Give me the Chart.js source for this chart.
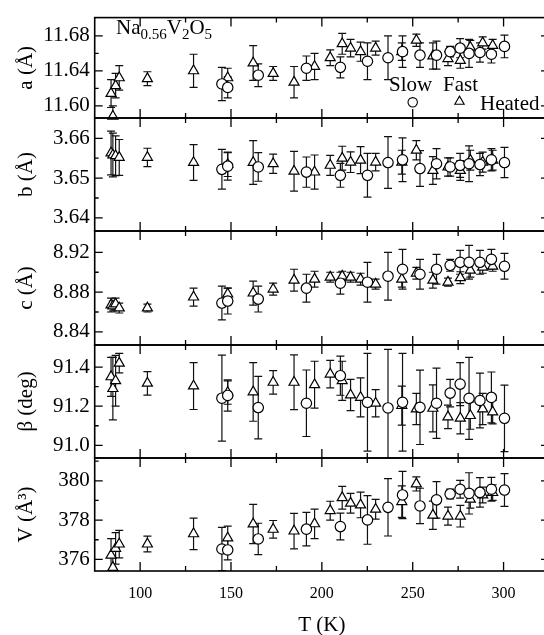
<!DOCTYPE html>
<html><head><meta charset="utf-8">
<script src="https://cdn.jsdelivr.net/npm/chart.js@4.4.1/dist/chart.umd.min.js"></script>
<style>
html,body{margin:0;padding:0;background:#fff;overflow:hidden;width:544px;height:635px}
#wrap{position:relative;width:544px;height:635px;overflow:hidden;background:#fff}
canvas{position:absolute;left:0;top:0}
</style></head><body><div id="wrap"></div>
<script>
// ---- data ----
const slowT = [145.0, 148.2, 165.0, 191.5, 210.2, 225.1, 236.4, 244.4, 254.0, 263.1, 270.6, 276.1, 281.0, 287.0, 293.3, 300.5];
const fastT = [84.0, 85.0, 86.5, 88.5, 104.0, 129.4, 148.2, 162.2, 173.2, 184.7, 196.0, 204.6, 211.2, 215.8, 221.3, 229.6, 244.0, 252.0, 261.1, 269.4, 276.2, 281.7, 288.5, 294.0];

const slowA    = [11.625, 11.621, 11.635, 11.643, 11.644, 11.651, 11.655, 11.662, 11.658, 11.658, 11.662, 11.666, 11.660, 11.661, 11.659, 11.668];
const slowAErr = [0.019, 0.012, 0.013, 0.014, 0.012, 0.021, 0.025, 0.018, 0.014, 0.016, 0.006, 0.011, 0.016, 0.011, 0.010, 0.013];
const fastA    = [11.614, 11.588, 11.623, 11.632, 11.631, 11.640, 11.632, 11.649, 11.637, 11.627, 11.645, 11.655, 11.671, 11.666, 11.662, 11.666, 11.662, 11.675, 11.657, 11.654, 11.652, 11.667, 11.672, 11.669];
const fastAErr = [0.016, 0.012, 0.014, 0.014, 0.008, 0.019, 0.011, 0.020, 0.008, 0.018, 0.015, 0.009, 0.012, 0.010, 0.011, 0.008, 0.010, 0.007, 0.015, 0.008, 0.009, 0.008, 0.007, 0.007];

const slowB    = [3.6522, 3.6530, 3.6528, 3.6515, 3.6507, 3.6507, 3.6539, 3.6546, 3.6524, 3.6536, 3.6528, 3.6532, 3.6536, 3.6534, 3.6546, 3.6539];
const slowBErr = [0.005, 0.0035, 0.0036, 0.0038, 0.003, 0.0055, 0.0065, 0.0055, 0.0045, 0.0038, 0.0023, 0.003, 0.0045, 0.0028, 0.0028, 0.0038];
const fastB    = [3.6563, 3.6558, 3.6556, 3.6552, 3.6552, 3.6539, 3.6534, 3.6539, 3.6536, 3.6517, 3.6515, 3.6532, 3.6550, 3.6540, 3.6545, 3.6540, 3.6540, 3.6570, 3.6519, 3.6528, 3.6519, 3.6545, 3.6540, 3.6545];
const fastBErr = [0.0055, 0.0055, 0.005, 0.0045, 0.0023, 0.0045, 0.003, 0.0055, 0.0024, 0.005, 0.0043, 0.0025, 0.003, 0.0026, 0.0034, 0.0022, 0.003, 0.0024, 0.0035, 0.0023, 0.0025, 0.0025, 0.0025, 0.0025];

const slowC    = [8.869, 8.871, 8.873, 8.884, 8.889, 8.890, 8.896, 8.903, 8.898, 8.903, 8.907, 8.910, 8.910, 8.910, 8.913, 8.906];
const slowCErr = [0.017, 0.013, 0.013, 0.014, 0.011, 0.020, 0.024, 0.020, 0.015, 0.015, 0.006, 0.012, 0.017, 0.012, 0.010, 0.013];
const fastC    = [8.867, 8.866, 8.868, 8.864, 8.864, 8.875, 8.878, 8.879, 8.883, 8.892, 8.893, 8.895, 8.896, 8.895, 8.893, 8.888, 8.893, 8.899, 8.892, 8.890, 8.8945, 8.902, 8.905, 8.906];
const fastCErr = [0.007, 0.005, 0.006, 0.005, 0.004, 0.009, 0.006, 0.012, 0.006, 0.011, 0.008, 0.005, 0.005, 0.005, 0.006, 0.005, 0.008, 0.006, 0.008, 0.004, 0.006, 0.007, 0.006, 0.005];

const slowBeta    = [91.241, 91.255, 91.193, 91.215, 91.356, 91.220, 91.191, 91.220, 91.194, 91.215, 91.267, 91.313, 91.240, 91.229, 91.245, 91.138];
const slowBetaErr = [0.22, 0.08, 0.16, 0.17, 0.10, 0.25, 0.30, 0.25, 0.19, 0.18, 0.07, 0.11, 0.21, 0.14, 0.13, 0.17];
const fastBeta    = [91.35, 91.29, 91.33, 91.42, 91.317, 91.303, 91.27, 91.273, 91.322, 91.322, 91.310, 91.364, 91.330, 91.257, 91.245, 91.215, 91.203, 91.186, 91.189, 91.145, 91.138, 91.152, 91.186, 91.170];
const fastBetaErr = [0.10, 0.16, 0.13, 0.05, 0.06, 0.12, 0.06, 0.15, 0.06, 0.14, 0.12, 0.07, 0.10, 0.08, 0.10, 0.07, 0.10, 0.08, 0.12, 0.06, 0.08, 0.07, 0.08, 0.06];

const slowV    = [376.53, 376.48, 377.04, 377.54, 377.67, 378.01, 378.65, 379.28, 378.72, 379.03, 379.33, 379.57, 379.36, 379.41, 379.57, 379.53];
const slowVErr = [1.1, 0.5, 0.8, 0.85, 0.68, 1.24, 1.46, 1.2, 0.9, 0.93, 0.25, 0.45, 1.05, 0.75, 0.6, 0.83];
const fastV    = [376.21, 375.59, 376.56, 376.78, 376.78, 377.30, 377.09, 377.80, 377.53, 377.44, 377.81, 378.48, 379.14, 378.86, 378.77, 378.55, 378.94, 379.84, 378.25, 378.20, 378.20, 379.06, 379.28, 379.40];
const fastVErr = [0.85, 0.5, 0.8, 0.7, 0.4, 0.8, 0.6, 1.0, 0.45, 0.9, 0.75, 0.48, 0.58, 0.5, 0.65, 0.5, 0.8, 0.36, 0.72, 0.46, 0.55, 0.45, 0.4, 0.4];

const tTicks = [100, 150, 200, 250, 300];
const tMinor = [125, 175, 225, 275];
const aTicks = [11.60, 11.64, 11.68], aMinor = [11.62, 11.66];
const bTicks = [3.64, 3.65, 3.66], bMinor = [3.645, 3.655];
const cTicks = [8.84, 8.88, 8.92], cMinor = [8.86, 8.90];
const betaTicks = [91.0, 91.2, 91.4], betaMinor = [91.1, 91.3];
const vTicks = [376, 378, 380], vMinor = [377, 379, 381];
const yTitles = ['a (Å)', 'b (Å)', 'c (Å)', 'β (deg)', 'V (Å³)'];
const seriesNames = ['Slow', 'Fast', 'Heated'];
const xTitle = 'T (K)';

// ---- layout ----
const W = 560, H = 635, PLOT_LEFT = 94.7, PLOT_RIGHT = 549;
const SERIF = '"Liberation Serif", "Times New Roman", serif';

const panels = [
  {title: yTitles[0], slow: slowA, slowErr: slowAErr, fast: fastA, fastErr: fastAErr, min: 11.586, max: 11.701, major: aTicks, minor: aMinor, dec: 2, top: 5, bottom: 118},
  {title: yTitles[1], slow: slowB, slowErr: slowBErr, fast: fastB, fastErr: fastBErr, min: 3.6367, max: 3.6651, major: bTicks, minor: bMinor, dec: 2, top: 118, bottom: 231},
  {title: yTitles[2], slow: slowC, slowErr: slowCErr, fast: fastC, fastErr: fastCErr, min: 8.8268, max: 8.9415, major: cTicks, minor: cMinor, dec: 2, top: 231, bottom: 345},
  {title: yTitles[3], slow: slowBeta, slowErr: slowBetaErr, fast: fastBeta, fastErr: fastBetaErr, min: 90.935, max: 91.513, major: betaTicks, minor: betaMinor, dec: 1, top: 345, bottom: 458},
  {title: yTitles[4], slow: slowV, slowErr: slowVErr, fast: fastV, fastErr: fastVErr, min: 375.41, max: 381.16, major: vTicks, minor: vMinor, dec: 0, top: 458, bottom: 571}
];

function drawTitleAndLegend(ctx) {
  ctx.save();
  ctx.fillStyle = '#000';
  ctx.textBaseline = 'alphabetic';
  ctx.textAlign = 'left';
  const big = '21px ' + SERIF, small = '15px ' + SERIF;
  let x = 116;
  const parts = [['Na', big, 34], ['0.56', small, 39], ['V', big, 34], ['2', small, 39], ['O', big, 34], ['5', small, 39]];
  parts.forEach(([t, f, y]) => { ctx.font = f; ctx.fillText(t, x, y); x += ctx.measureText(t).width; });
  ctx.font = big;
  ctx.fillText(seriesNames[0], 389, 91);
  ctx.fillText(seriesNames[1], 443, 91);
  ctx.fillText(seriesNames[2], 480, 109.5);
  ctx.strokeStyle = '#000'; ctx.lineWidth = 1.1;
  ctx.beginPath(); ctx.arc(412.7, 102.3, 4.7, 0, Math.PI * 2); ctx.stroke();
  const r = 5.4, cx = 459.5, cy = 101.5;
  ctx.beginPath();
  for (let k = 0; k < 3; k++) {
    const ang = k * 2 * Math.PI / 3;
    const px = cx + Math.sin(ang) * r, py = cy - Math.cos(ang) * r;
    k ? ctx.lineTo(px, py) : ctx.moveTo(px, py);
  }
  ctx.closePath(); ctx.stroke();
  ctx.restore();
}

function makeDeco(p, idx, last) {
  return {
    id: 'deco' + idx,
    beforeDatasetsDraw(chart) {
      const {ctx, chartArea: ca} = chart;
      const xs = chart.scales.x, ys = chart.scales.y;
      ctx.save();
      ctx.beginPath(); ctx.rect(ca.left, ca.top, ca.right - ca.left, ca.bottom - ca.top); ctx.clip();
      ctx.strokeStyle = '#111'; ctx.lineWidth = 1.2;
      chart.data.datasets.forEach(ds => {
        ds.data.forEach((pt, i) => {
          const e = ds.err[i];
          const x = xs.getPixelForValue(pt.x);
          const y1 = ys.getPixelForValue(pt.y + e), y2 = ys.getPixelForValue(pt.y - e);
          ctx.beginPath();
          ctx.moveTo(x, y1); ctx.lineTo(x, y2);
          ctx.moveTo(x - 4, y1); ctx.lineTo(x + 4, y1);
          ctx.moveTo(x - 4, y2); ctx.lineTo(x + 4, y2);
          ctx.stroke();
        });
      });
      ctx.restore();
    },
    afterDraw(chart) {
      const {ctx, chartArea: ca} = chart;
      const xs = chart.scales.x, ys = chart.scales.y;
      ctx.save();
      ctx.strokeStyle = '#000';
      ctx.lineWidth = 1.3;
      ctx.beginPath();
      tTicks.forEach(v => { const x = xs.getPixelForValue(v); ctx.moveTo(x, ca.top); ctx.lineTo(x, ca.top + 9); ctx.moveTo(x, ca.bottom); ctx.lineTo(x, ca.bottom - 9); });
      tMinor.forEach(v => { const x = xs.getPixelForValue(v); ctx.moveTo(x, ca.top); ctx.lineTo(x, ca.top + 5); ctx.moveTo(x, ca.bottom); ctx.lineTo(x, ca.bottom - 5); });
      p.major.forEach(v => { const y = ys.getPixelForValue(v); ctx.moveTo(ca.left, y); ctx.lineTo(ca.left + 8, y); ctx.moveTo(ca.right, y); ctx.lineTo(ca.right - 8, y); });
      p.minor.forEach(v => { if (v <= p.min || v >= p.max) return; const y = ys.getPixelForValue(v); ctx.moveTo(ca.left, y); ctx.lineTo(ca.left + 4, y); ctx.moveTo(ca.right, y); ctx.lineTo(ca.right - 4, y); });
      ctx.stroke();
      ctx.lineWidth = 1.6;
      ctx.strokeRect(ca.left, ca.top, ca.right - ca.left, ca.bottom - ca.top);
      ctx.fillStyle = '#000';
      ctx.font = '21px ' + SERIF;
      ctx.textAlign = 'center'; ctx.textBaseline = 'middle';
      ctx.save();
      ctx.translate(26, (ca.top + ca.bottom) / 2); ctx.rotate(-Math.PI / 2);
      ctx.fillText(p.title, 0, 0);
      ctx.restore();
      if (last) ctx.fillText(xTitle, (ca.left + ca.right) / 2, 625);
      ctx.restore();
      if (idx === 0) drawTitleAndLegend(ctx);
    }
  };
}

const wrap = document.getElementById('wrap');
panels.forEach((p, idx) => {
  const cv = document.createElement('canvas');
  cv.width = W; cv.height = H; cv.style.width = W + 'px'; cv.style.height = H + 'px';
  wrap.appendChild(cv);
  const last = idx === panels.length - 1;
  new Chart(cv, {
    type: 'scatter',
    data: {
      datasets: [
        {label: seriesNames[0], data: slowT.map((t, i) => ({x: t, y: p.slow[i]})), err: p.slowErr,
         pointStyle: 'circle', pointRadius: 5.2, borderColor: '#000', backgroundColor: '#fff', borderWidth: 1.2, clip: false},
        {label: seriesNames[1], data: fastT.map((t, i) => ({x: t, y: p.fast[i]})), err: p.fastErr,
         pointStyle: 'triangle', pointRadius: 5.8, borderColor: '#000', backgroundColor: '#fff', borderWidth: 1.2, clip: false}
      ]
    },
    options: {
      responsive: false, animation: false, devicePixelRatio: 1, events: [],
      layout: {padding: {top: p.top, bottom: last ? 0 : (H - p.bottom), left: 0, right: W - PLOT_RIGHT}},
      plugins: {legend: {display: false}, tooltip: {enabled: false}},
      scales: {
        x: {type: 'linear', min: 75, max: 325,
            grid: {display: false, drawTicks: false}, border: {display: false},
            ticks: {display: last, font: {family: SERIF, size: 16}, color: '#000', padding: 13, maxRotation: 0, autoSkip: false},
            afterBuildTicks: s => { s.ticks = tTicks.map(v => ({value: v})); },
            afterFit: s => { s.height = last ? (H - p.bottom) : 0; }},
        y: {type: 'linear', min: p.min, max: p.max,
            grid: {display: false, drawTicks: false}, border: {display: false},
            ticks: {font: {family: SERIF, size: 21}, color: '#000', padding: 5, autoSkip: false,
                    callback: v => Number(v).toFixed(p.dec)},
            afterBuildTicks: s => { s.ticks = p.major.map(v => ({value: v})); },
            afterFit: s => { s.width = PLOT_LEFT; }}
      }
    },
    plugins: [makeDeco(p, idx, last)]
  });
});
</script>
</body></html>
